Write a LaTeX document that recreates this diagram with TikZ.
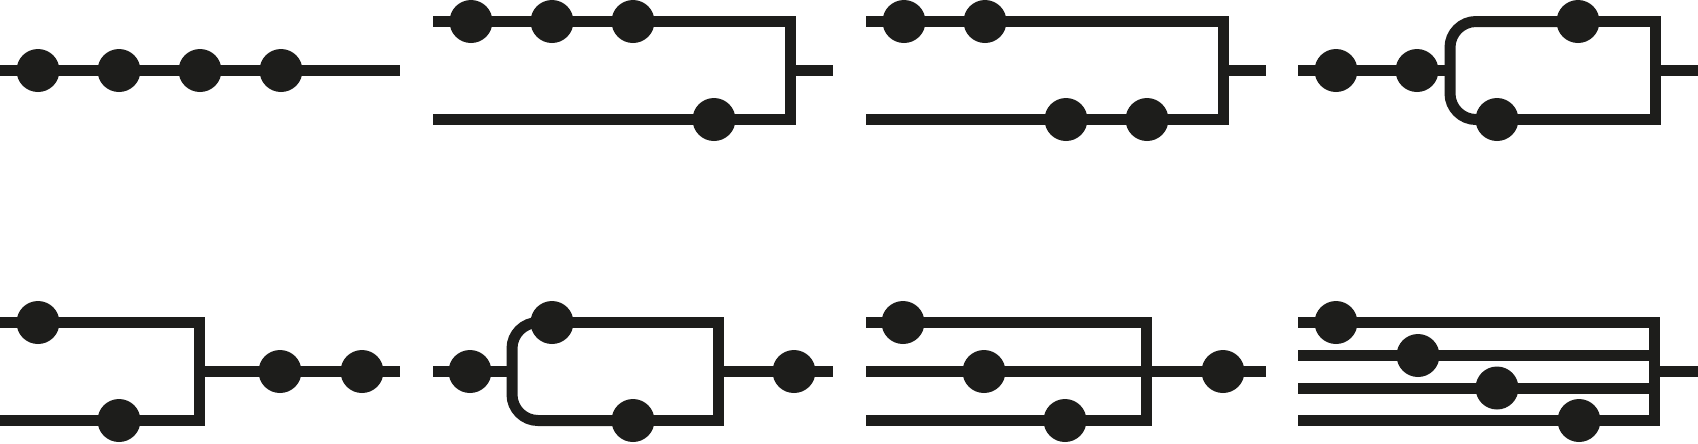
\documentclass[tikz,border=0pt]{standalone}
\usepackage{xcolor}
\definecolor{ink}{RGB}{29,29,27}
\tikzset{
    wire/.style={line width=1.1mm,draw=ink},
    bead/.style={circle,fill=ink,inner sep=0pt,minimum size=4.3mm},
}

\begin{document}
\begin{tikzpicture}[x=0.1mm,y=-0.1mm]
            \useasboundingbox (0,0) rectangle (1698,443);

            \begin{scope}[shift={(0,0)}]   % four in series
                \node[bead] (a1) at (38,70.5) {};
                \node[bead] (a2) at (119,70.5) {};
                \node[bead] (a3) at (200,70.5) {};
                \node[bead] (a4) at (281,70.5) {};
                \coordinate (aL) at (0,70.5);
                \coordinate (aO) at (400,70.5);
                \draw[wire] (aL) -- (a1.center) -- (a2.center) -- (a3.center) -- (a4.center) -- (aO);
            \end{scope}

            \begin{scope}[shift={(433,0)}]   % three over one
                \node[bead] (b1) at (38,21.5) {};
                \node[bead] (b2) at (119,21.5) {};
                \node[bead] (b3) at (200,21.5) {};
                \node[bead] (b4) at (281,119.5) {};
                \coordinate (bTL) at (0,21.5);
                \coordinate (bTR) at (357,21.5);
                \coordinate (bBR) at (357,119.5);
                \coordinate (bBL) at (0,119.5);
                \coordinate (bM) at (357,70.5);
                \coordinate (bO) at (400,70.5);
                \draw[wire] (bTL) -- (b1.center) -- (b2.center) -- (b3.center) -- (bTR) -- (bBR) -- (b4.center) -- (bBL);
                \draw[wire] (bM) -- (bO);
            \end{scope}

            \begin{scope}[shift={(866,0)}]   % two over two
                \node[bead] (c1) at (38,21.5) {};
                \node[bead] (c2) at (119,21.5) {};
                \node[bead] (c3) at (200,119.5) {};
                \node[bead] (c4) at (281,119.5) {};
                \coordinate (cTL) at (0,21.5);
                \coordinate (cTR) at (357,21.5);
                \coordinate (cBR) at (357,119.5);
                \coordinate (cBL) at (0,119.5);
                \coordinate (cM) at (357,70.5);
                \coordinate (cO) at (400,70.5);
                \draw[wire] (cTL) -- (c1.center) -- (c2.center) -- (cTR) -- (cBR) -- (c4.center) -- (c3.center) -- (cBL);
                \draw[wire] (cM) -- (cO);
            \end{scope}

            \begin{scope}[shift={(1298,0)}]   % two, then a split
                \node[bead] (d1) at (38,70.5) {};
                \node[bead] (d2) at (119,70.5) {};
                \node[bead] (d3) at (280,21.5) {};
                \node[bead] (d4) at (199,119.5) {};
                \coordinate (dL) at (0,70.5);
                \coordinate (dF) at (152,70.5);
                \coordinate (dFT) at (152,21.5);
                \coordinate (dFB) at (152,119.5);
                \coordinate (dTR) at (357,21.5);
                \coordinate (dBR) at (357,119.5);
                \coordinate (dM) at (357,70.5);
                \coordinate (dO) at (400,70.5);
                \draw[wire] (dL) -- (d1.center) -- (d2.center) -- (dF);
                \draw[wire,rounded corners=2.6mm] (d3.center) -- (dFT) -- (dFB) -- (d4.center);
                \draw[wire] (d3.center) -- (dTR) -- (dBR) -- (d4.center);
                \draw[wire] (dM) -- (dO);
            \end{scope}

            \begin{scope}[shift={(0,301)}]   % split, then two
                \node[bead] (e1) at (38,21.5) {};
                \node[bead] (e2) at (119,119.5) {};
                \node[bead] (e3) at (280,70.5) {};
                \node[bead] (e4) at (362,70.5) {};
                \coordinate (eTL) at (0,21.5);
                \coordinate (eTR) at (199,21.5);
                \coordinate (eBR) at (199,119.5);
                \coordinate (eBL) at (0,119.5);
                \coordinate (eM) at (199,70.5);
                \coordinate (eO) at (400,70.5);
                \draw[wire] (eTL) -- (e1.center) -- (eTR) -- (eBR) -- (e2.center) -- (eBL);
                \draw[wire] (eM) -- (e3.center) -- (e4.center) -- (eO);
            \end{scope}

            \begin{scope}[shift={(433,301)}]   % one, split, one
                \node[bead] (f1) at (37,70.5) {};
                \node[bead] (f2) at (119,21.5) {};
                \node[bead] (f3) at (200,119.5) {};
                \node[bead] (f4) at (361,70.5) {};
                \coordinate (fL) at (0,70.5);
                \coordinate (fF) at (79,70.5);
                \coordinate (fFT) at (79,21.5);
                \coordinate (fFB) at (79,119.5);
                \coordinate (fTR) at (285,21.5);
                \coordinate (fBR) at (285,119.5);
                \coordinate (fM) at (285,70.5);
                \coordinate (fO) at (400,70.5);
                \draw[wire] (fL) -- (f1.center) -- (fF);
                \draw[wire,rounded corners=2.6mm] (f2.center) -- (fFT) -- (fFB) -- (f3.center);
                \draw[wire] (f2.center) -- (fTR) -- (fBR) -- (f3.center);
                \draw[wire] (fM) -- (f4.center) -- (fO);
            \end{scope}

            \begin{scope}[shift={(866,301)}]   % three lines, then one
                \node[bead] (g1) at (37,21.5) {};
                \node[bead] (g2) at (118,70.5) {};
                \node[bead] (g3) at (199,119.5) {};
                \node[bead] (g4) at (357,70.5) {};
                \coordinate (gTL) at (0,21.5);
                \coordinate (gTR) at (280,21.5);
                \coordinate (gBR) at (280,119.5);
                \coordinate (gBL) at (0,119.5);
                \coordinate (gML) at (0,70.5);
                \coordinate (gO) at (400,70.5);
                \draw[wire] (gTL) -- (g1.center) -- (gTR) -- (gBR) -- (g3.center) -- (gBL);
                \draw[wire] (gML) -- (g2.center) -- (g4.center) -- (gO);
            \end{scope}

            \begin{scope}[shift={(1298,301)}]   % four lines
                \node[bead] (h1) at (38,21.5) {};
                \node[bead] (h2) at (120,54.5) {};
                \node[bead] (h3) at (199,87) {};
                \node[bead] (h4) at (281,119.5) {};
                \coordinate (hTL) at (0,21.5);
                \coordinate (hTR) at (356,21.5);
                \coordinate (hBR) at (356,119.5);
                \coordinate (hBL) at (0,119.5);
                \coordinate (h2L) at (0,54.5);
                \coordinate (h2R) at (356,54.5);
                \coordinate (h3L) at (0,87);
                \coordinate (h3R) at (356,87);
                \coordinate (hM) at (356,70.5);
                \coordinate (hO) at (400,70.5);
                \draw[wire] (hTL) -- (h1.center) -- (hTR) -- (hBR) -- (h4.center) -- (hBL);
                \draw[wire] (h2L) -- (h2.center) -- (h2R);
                \draw[wire] (h3L) -- (h3.center) -- (h3R);
                \draw[wire] (hM) -- (hO);
            \end{scope}
        \end{tikzpicture}
\end{document}
